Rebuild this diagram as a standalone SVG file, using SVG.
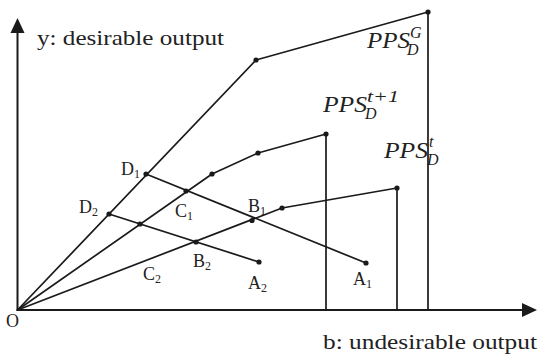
<svg xmlns="http://www.w3.org/2000/svg" width="539" height="359" viewBox="0 0 539 359">
<style>
.ax{stroke:#1a1a1a;stroke-width:2;fill:none}
.ln{stroke:#1a1a1a;stroke-width:1.7;fill:none;stroke-linejoin:round}
.dot{fill:#1a1a1a}
.lbl{font-family:"Liberation Serif",serif;font-size:18px;fill:#222}
.sub{font-size:12px}
.ttl{font-family:"Liberation Serif",serif;font-size:22px;fill:#222}
.pps{font-family:"Liberation Serif",serif;font-style:italic;font-size:23px;fill:#222}
.ps{font-size:16px}
</style>
<rect width="539" height="359" fill="#fff"/>
<g id="axes">
<line class="ax" x1="17.5" y1="311" x2="17.5" y2="30"/>
<polygon class="dot" points="17.5,18 10.5,33 24.5,33"/>
<line class="ax" x1="16.5" y1="310" x2="525" y2="310"/>
<polygon class="dot" points="537,310 522,303 522,317"/>
</g>
<g id="connectors">
<polyline class="ln" points="17.5,310 256,60 428,12 428,310"/>
<polyline class="ln" points="17.5,310 212,174 258,153 326,134 326,310"/>
<polyline class="ln" points="17.5,310 282,208 397,188 397,310"/>
<polyline class="ln" points="146,174 366,263"/>
<polyline class="ln" points="109,214 259,262"/>
</g>
<g id="points">
<circle class="dot" cx="256" cy="60" r="2.6"/>
<circle class="dot" cx="428" cy="12" r="2.6"/>
<circle class="dot" cx="212" cy="174" r="2.6"/>
<circle class="dot" cx="258" cy="153" r="2.6"/>
<circle class="dot" cx="326" cy="134" r="2.6"/>
<circle class="dot" cx="282" cy="208" r="2.6"/>
<circle class="dot" cx="397" cy="188" r="2.6"/>
<circle class="dot" cx="146" cy="174" r="2.6"/>
<circle class="dot" cx="186" cy="191" r="2.6"/>
<circle class="dot" cx="252" cy="220.5" r="2.6"/>
<circle class="dot" cx="366" cy="263" r="2.6"/>
<circle class="dot" cx="109" cy="214" r="2.6"/>
<circle class="dot" cx="140" cy="224" r="2.6"/>
<circle class="dot" cx="196" cy="242" r="2.6"/>
<circle class="dot" cx="259" cy="262" r="2.6"/>
</g>
<g id="labels">
<text class="ttl" x="37" y="45" textLength="187" lengthAdjust="spacingAndGlyphs">y: desirable output</text>
<text class="ttl" x="323" y="349" textLength="214" lengthAdjust="spacingAndGlyphs">b: undesirable output</text>
<text class="lbl" x="6" y="327">O</text>
<text class="lbl" x="121" y="175">D<tspan class="sub" dy="3">1</tspan></text>
<text class="lbl" x="79" y="213">D<tspan class="sub" dy="3">2</tspan></text>
<text class="lbl" x="175" y="217">C<tspan class="sub" dy="3">1</tspan></text>
<text class="lbl" x="143" y="280">C<tspan class="sub" dy="3">2</tspan></text>
<text class="lbl" x="248" y="212">B<tspan class="sub" dy="3">1</tspan></text>
<text class="lbl" x="193" y="267">B<tspan class="sub" dy="3">2</tspan></text>
<text class="lbl" x="353" y="285">A<tspan class="sub" dy="3">1</tspan></text>
<text class="lbl" x="248" y="289">A<tspan class="sub" dy="3">2</tspan></text>
<text class="pps" x="367" y="48" textLength="43" lengthAdjust="spacingAndGlyphs">PPS</text>
<text class="pps ps" x="410" y="38">G</text>
<text class="pps ps" x="407" y="55">D</text>
<text class="pps" x="323" y="112" textLength="44" lengthAdjust="spacingAndGlyphs">PPS</text>
<text class="pps ps" x="367" y="102" textLength="32" lengthAdjust="spacingAndGlyphs">t+1</text>
<text class="pps ps" x="365" y="119">D</text>
<text class="pps" x="384" y="158" textLength="44" lengthAdjust="spacingAndGlyphs">PPS</text>
<text class="pps ps" x="429" y="147">t</text>
<text class="pps ps" x="427" y="165">D</text>
</g>
</svg>
